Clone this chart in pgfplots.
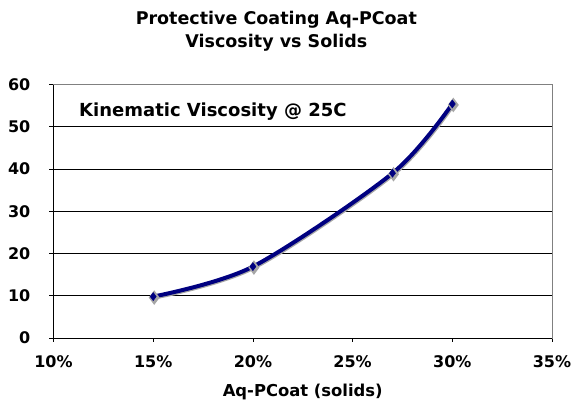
\documentclass[border=0pt]{standalone}
\usepackage{fontspec}
\setmainfont{DejaVu Sans}[BoldFont={DejaVu Sans Bold}]
\usepackage{pgfplots}
\pgfplotsset{compat=1.18}
\definecolor{navy}{RGB}{0,0,128}
\begin{document}
\begin{tikzpicture}
\begin{axis}[
  scale only axis, width=498.5pt, height=253.5pt,
  xmin=10, xmax=35, ymin=0, ymax=60,
  xtick={10,15,20,25,30,35},
  xticklabels={10\%,15\%,20\%,25\%,30\%,35\%},
  ytick={0,10,20,30,40,50,60},
  /pgf/number format/assume math mode=true,
  tick label style={font=\bfseries\fontsize{16}{19}\selectfont},
  ymajorgrids, grid style={black, line width=0.8pt},
  axis line style={gray, line width=0.8pt},
  tick style={black, line width=0.8pt},
  tick align=outside, xtick pos=bottom, ytick pos=left,
  major tick length=4pt,
  xticklabel style={anchor=base, inner sep=0pt, yshift=-26pt},
  yticklabel style={anchor=east, inner sep=0pt, xshift=-19pt},
  clip=false,
]
\addplot[gray!70, line width=4pt, smooth, xshift=1pt, yshift=-1pt, mark=diamond*, mark size=4pt]
  coordinates {(15,9.8) (20,16.9) (27,39.0) (30,55.4)};
\addplot[navy, line width=4pt, smooth, mark=diamond*, mark size=4pt, mark options={fill=navy, draw=navy, line width=0.5pt}]
  coordinates {(15,9.8) (20,16.9) (27,39.0) (30,55.4)};
\draw[black, line width=0.8pt] (rel axis cs:0,1) -- (rel axis cs:0,0) -- (rel axis cs:1,0);
\node[anchor=base, font=\bfseries\fontsize{17.5}{21}\selectfont, inner sep=0pt]
  at ([yshift=60.5pt]rel axis cs:0.447,1) {Protective Coating Aq-PCoat};
\node[anchor=base, font=\bfseries\fontsize{17.5}{21}\selectfont, inner sep=0pt]
  at ([yshift=37.5pt]rel axis cs:0.447,1) {Viscosity vs Solids};
\node[anchor=base west, font=\bfseries\fontsize{18}{21}\selectfont, inner sep=0pt]
  at (rel axis cs:0.0512,0.8757) {Kinematic Viscosity @ 25C};
\node[anchor=base, font=\bfseries\fontsize{16.4}{19}\selectfont, inner sep=0pt]
  at ([yshift=-59pt]rel axis cs:0.5,0) {Aq-PCoat (solids)};
\end{axis}
\pgfresetboundingbox
\path ([shift={(-53.5pt,-65pt)}]current axis.south west) rectangle ++(575pt,403pt);
\end{tikzpicture}
\end{document}
